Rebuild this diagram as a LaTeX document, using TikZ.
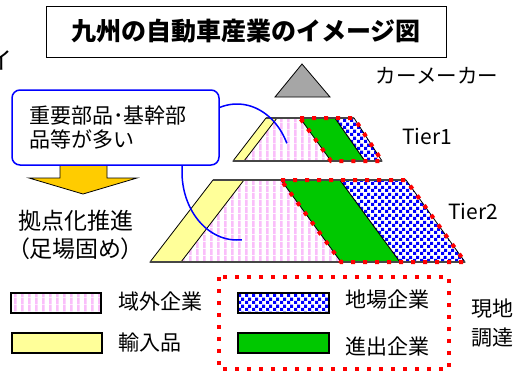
\documentclass[tikz,border=0pt]{standalone}
\usepackage{fontspec}
\setmainfont{Noto Sans CJK JP}
\newfontfamily\jpprop{Noto Sans CJK JP}[RawFeature=+palt]
\usetikzlibrary{patterns}
\definecolor{pinkst}{RGB}{250,190,250}
\definecolor{impyel}{RGB}{255,255,153}
\definecolor{locblue}{RGB}{0,0,255}
\definecolor{advgreen}{RGB}{0,200,0}
\definecolor{arrgold}{RGB}{255,204,0}
\definecolor{dotred}{RGB}{255,0,0}
\definecolor{edge}{RGB}{70,70,70}
\definecolor{makergray}{RGB}{166,166,166}
\pgfdeclarepatternformonly{vstripes}{\pgfpointorigin}{\pgfqpoint{7pt}{7pt}}{\pgfqpoint{7pt}{7pt}}{%
 \pgfpathrectangle{\pgfpointorigin}{\pgfqpoint{3pt}{7pt}}\pgfusepath{fill}}
\pgfdeclarepatternformonly{chk}{\pgfpointorigin}{\pgfqpoint{7pt}{7pt}}{\pgfqpoint{7pt}{7pt}}{%
 \pgfpathrectangle{\pgfpointorigin}{\pgfqpoint{3.5pt}{3.5pt}}%
 \pgfpathrectangle{\pgfqpoint{3.5pt}{3.5pt}}{\pgfqpoint{3.5pt}{3.5pt}}\pgfusepath{fill}}

\begin{document}
\begin{tikzpicture}[x=1pt,y=-1pt,
 lbl/.style={font=\fontsize{21}{25}\selectfont,inner sep=0pt},
 keybox/.style={draw=black,line width=2.5pt,minimum width=90pt,minimum height=20pt,inner sep=0pt},
 part/.style={draw=black,line width=.8pt},
 rim/.style={draw=edge,line width=1.3pt},
 reddot/.style={draw=dotred,line width=4pt,dash pattern=on 4pt off 8pt},
 stripes/.style={preaction={fill=white},pattern=vstripes,pattern color=pinkst},
 checks/.style={preaction={fill=white},pattern=chk,pattern color=locblue}]
\useasboundingbox (0,0) rectangle (524,373);
\node[lbl,font=\fontsize{24}{28}\selectfont] (cut) at (1,60) {イ};
\node[draw,line width=1pt,minimum width=400pt,minimum height=51pt,font=\fontsize{25}{30}\selectfont\bfseries] (title) at (246,31.5) {九州の自動車産業のイメージ図};
% maker
\draw[part,fill=makergray] (302,64) -- (330,97) -- (275,97) -- cycle;
\node[lbl,font=\fontsize{20.5}{25}\selectfont] (maker) at (437,76) {カーメーカー};
% Tier1
\path[stripes] (233,161) -- (266,118) -- (354,118) -- (382,161) -- cycle;
\draw[part,fill=impyel] (233,161) -- (266,118) -- (277,118) -- (244,161) -- cycle;
\draw[part,fill=advgreen] (300,118) -- (335,118) -- (365,161) -- (331,161) -- cycle;
\draw[part,checks] (335,118) -- (354,118) -- (382,161) -- (365,161) -- cycle;
\draw[rim] (266,118) -- (354,118) (233,161) -- (382,161);
\draw[reddot] (300,118) -- (354,118) -- (382,161) -- (331,161) -- cycle;
\node[lbl] (tierone) at (427,136) {Tier1};
% Tier2
\path[stripes] (150,262) -- (213,180) -- (406,180) -- (465,262) -- cycle;
\draw[part,fill=impyel] (150,262) -- (213,180) -- (244,180) -- (181,262) -- cycle;
\draw[part,fill=advgreen] (281,180) -- (340,180) -- (400,262) -- (341,262) -- cycle;
\draw[part,checks] (340,180) -- (406,180) -- (465,262) -- (400,262) -- cycle;
\draw[rim] (213,180) -- (406,180) (150,262) -- (465,262);
\draw[reddot] (281,180) -- (406,180) -- (465,262) -- (341,262) -- cycle;
\node[lbl] (tiertwo) at (473,211) {Tier2};
% callout
\draw[locblue,line width=1.5pt] plot[domain=85:335,samples=90,smooth] ({237+55*cos(\x)},{172+68*sin(\x)});
\draw[black,line width=.8pt,fill=arrgold] (60,160) -- (107,160) -- (107,178) -- (137,178) -- (83,194) -- (29,178) -- (60,178) -- cycle;
\node[draw=locblue,line width=1.5pt,fill=white,rounded corners=8pt,text width=173pt,inner xsep=17pt,minimum height=75pt,align=left,font=\fontsize{21}{24}\selectfont] (note) at (115.5,127.5) {重要部品･基幹部\\品等が多い};
\node[lbl,anchor=west,font=\fontsize{23}{28}\selectfont] (push) at (18,221) {拠点化推進};
\node[lbl,anchor=west,font=\jpprop\fontsize{23}{28}\selectfont] (foot) at (18,249) {（足場固め）};
% legend
\node[keybox,stripes] (keyout) at (56,303) {};
\node[keybox,fill=impyel] (keyimp) at (57,343) {};
\node[keybox,checks,minimum width=91pt] (keyloc) at (283.5,303) {};
\node[keybox,fill=advgreen,minimum width=91pt] (keyadv) at (283.5,343) {};
\node[lbl,anchor=west] (txtout) at (118,301) {域外企業};
\node[lbl,anchor=west] (txtimp) at (118,343) {輸入品};
\node[lbl,anchor=west] (txtloc) at (345,300) {地場企業};
\node[lbl,anchor=west] (txtadv) at (345,346) {進出企業};
\draw[reddot] (219,277) rectangle (449,369);
\node[lbl,align=center,font=\fontsize{21}{29}\selectfont] (local) at (492,323) {現地\\調達};
\end{tikzpicture}
\end{document}
